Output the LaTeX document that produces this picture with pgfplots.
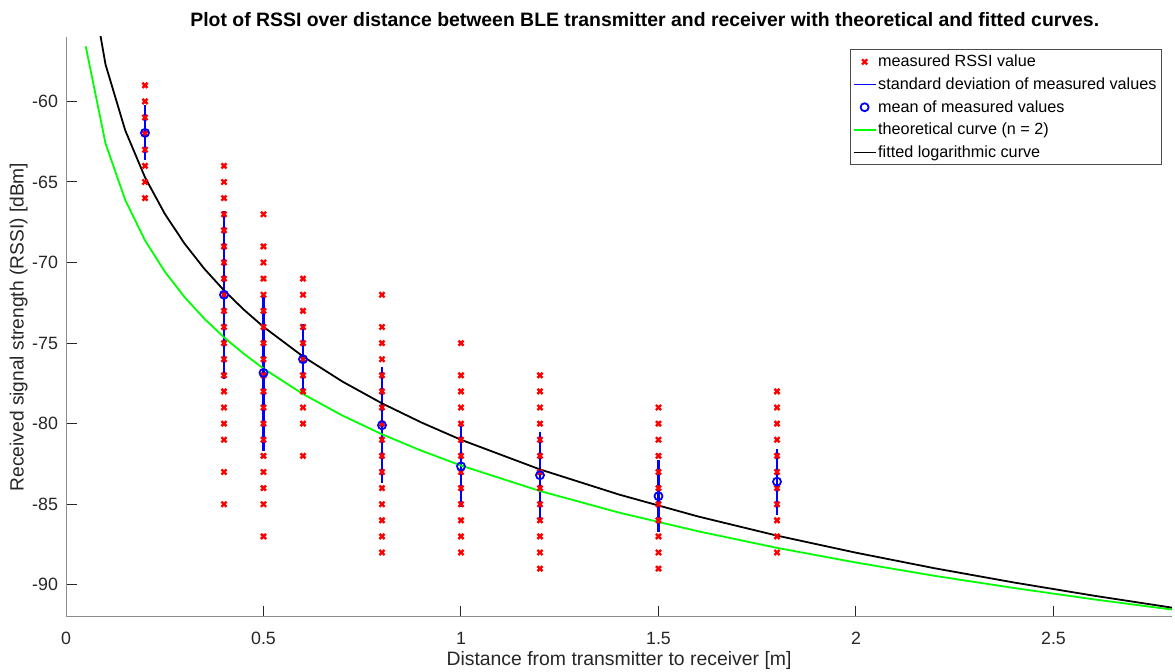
\documentclass[border=0pt]{standalone}
\usepackage{fontspec}
\setmainfont{Liberation Sans}
\usepackage{pgfplots}
\pgfplotsset{compat=1.18}
\usepackage{pgfplotstable}

\pgfplotstableread{
d rssi
0.2 -59
0.2 -60
0.2 -61
0.2 -62
0.2 -63
0.2 -64
0.2 -65
0.2 -66
0.4 -64
0.4 -65
0.4 -66
0.4 -67
0.4 -68
0.4 -69
0.4 -70
0.4 -71
0.4 -72
0.4 -73
0.4 -74
0.4 -75
0.4 -76
0.4 -77
0.4 -78
0.4 -79
0.4 -80
0.4 -81
0.4 -83
0.4 -85
0.5 -67
0.5 -69
0.5 -70
0.5 -71
0.5 -72
0.5 -73
0.5 -74
0.5 -75
0.5 -76
0.5 -77
0.5 -78
0.5 -79
0.5 -80
0.5 -81
0.5 -82
0.5 -83
0.5 -84
0.5 -85
0.5 -87
0.6 -71
0.6 -72
0.6 -73
0.6 -74
0.6 -75
0.6 -76
0.6 -77
0.6 -78
0.6 -79
0.6 -80
0.6 -82
0.8 -72
0.8 -74
0.8 -75
0.8 -76
0.8 -77
0.8 -78
0.8 -79
0.8 -80
0.8 -81
0.8 -82
0.8 -83
0.8 -84
0.8 -85
0.8 -86
0.8 -87
0.8 -88
1.0 -75
1.0 -77
1.0 -78
1.0 -79
1.0 -80
1.0 -81
1.0 -82
1.0 -83
1.0 -84
1.0 -85
1.0 -86
1.0 -87
1.0 -88
1.2 -77
1.2 -78
1.2 -79
1.2 -80
1.2 -81
1.2 -82
1.2 -83
1.2 -84
1.2 -85
1.2 -86
1.2 -87
1.2 -88
1.2 -89
1.5 -79
1.5 -80
1.5 -81
1.5 -82
1.5 -83
1.5 -84
1.5 -85
1.5 -86
1.5 -87
1.5 -88
1.5 -89
1.8 -78
1.8 -79
1.8 -80
1.8 -81
1.8 -82
1.8 -83
1.8 -84
1.8 -85
1.8 -86
1.8 -87
1.8 -88
}\measured

\pgfplotstableread{
d mean
0.2 -61.95
0.4 -72.0
0.5 -76.85
0.6 -76.0
0.8 -80.1
1.0 -82.65
1.2 -83.2
1.5 -84.5
1.8 -83.6
}\means

\pgfplotstableread{
d rssi
0.05 -56.58
0.10 -62.60
0.15 -66.12
0.20 -68.62
0.25 -70.56
0.30 -72.14
0.35 -73.48
0.40 -74.64
0.45 -75.66
0.50 -76.58
0.60 -78.16
0.70 -79.50
0.80 -80.66
0.90 -81.68
1.00 -82.60
1.20 -84.18
1.40 -85.52
1.60 -86.68
1.80 -87.71
2.00 -88.62
2.20 -89.45
2.40 -90.20
2.60 -90.90
2.80 -91.54
}\theory

\pgfplotstableread{
d rssi
0.05 -50.69
0.10 -57.70
0.15 -61.80
0.20 -64.71
0.25 -66.97
0.30 -68.82
0.35 -70.38
0.40 -71.73
0.45 -72.92
0.50 -73.99
0.60 -75.83
0.70 -77.39
0.80 -78.74
0.90 -79.93
1.00 -81.00
1.20 -82.84
1.40 -84.40
1.60 -85.76
1.80 -86.95
2.00 -88.01
2.20 -88.98
2.40 -89.86
2.60 -90.67
2.80 -91.42
}\fitted

\begin{document}
\begin{tikzpicture}
\path[use as bounding box] (-33pt,-27.5pt) rectangle (554.5pt,308.5pt);
\begin{axis}[
  at={(0,0)}, anchor=south west,
  scale only axis, width=553pt, height=290pt,
  xmin=0, xmax=2.8, ymin=-92, ymax=-56,
  axis x line=bottom, axis y line=left,
  axis line style={-, draw=black!45, line width=0.5pt},
  tick align=inside, major tick length=5.5pt,
  tick style={black!85, line width=0.5pt},
  xtick={0,0.5,1,1.5,2,2.5},
  ytick={-90,-85,-80,-75,-70,-65,-60},
  /pgf/number format/assume math mode=true,
  ticklabel style={font=\fontsize{8.9}{10}\selectfont, text=black!85},
  xticklabel style={yshift=-4pt},
  yticklabel style={xshift=-0.5pt},
  xlabel={Distance from transmitter to receiver [m]},
  ylabel={Received signal strength (RSSI) [dBm]},
  every axis x label/.style={at={(axis description cs:0.5,-0.0845)}, anchor=base, font=\fontsize{9.7}{11}\selectfont, text=black!85},
  every axis y label/.style={at={(axis description cs:-0.0429,0.5)}, anchor=center, rotate=90, font=\fontsize{9.6}{11}\selectfont, text=black!85},
  title={Plot of RSSI over distance between BLE transmitter and receiver with theoretical and fitted curves.},
  every axis title/.style={at={(axis description cs:0.1121,1.0178)}, anchor=base west, inner sep=0pt, font=\bfseries\fontsize{9.7}{11}\selectfont},
  legend cell align=left,
  legend style={at={(1,1)}, anchor=north east, xshift=-5pt, yshift=-6pt,
    draw=black!70, line width=0.5pt, inner xsep=1.5pt, inner ysep=0.5pt,
    font=\fontsize{8.1}{9}\selectfont, row sep=0pt,
    nodes={inner sep=1pt, text height=7.1pt, text depth=2.25pt, text=black}},
  legend image code/.code={\draw[mark repeat=2,mark phase=2,#1,line width=0.6pt] plot coordinates {(0pt,0pt) (5.5pt,0pt) (11pt,0pt)};},
]
\addplot[only marks, red, mark=x, mark size=1.8pt, mark options={line width=1.2pt}] table[x=d, y=rssi] {\measured};
\addlegendentry{measured RSSI value}
\addplot[blue, line width=1.3pt, unbounded coords=jump] coordinates {
  (0.2,-60.25) (0.2,-63.65) (0.3,nan)
  (0.4,-66.8) (0.4,-77.2) (0.45,nan)
  (0.5,-72.0) (0.5,-81.7) (0.55,nan)
  (0.6,-73.8) (0.6,-78.2) (0.7,nan)
  (0.8,-76.5) (0.8,-83.7) (0.9,nan)
  (1.0,-80.15) (1.0,-85.15) (1.1,nan)
  (1.2,-80.5) (1.2,-85.9) (1.3,nan)
  (1.5,-82.25) (1.5,-86.75) (1.6,nan)
  (1.8,-81.55) (1.8,-85.65)
};
\addlegendentry{standard deviation of measured values\hspace{5pt}}
\addplot[only marks, blue, mark=o, mark size=2pt, mark options={line width=0.9pt}] table[x=d, y=mean] {\means};
\addlegendentry{mean of measured values}
\addplot[green, line width=0.9pt, mark=none] table[x=d, y=rssi] {\theory};
\addlegendentry{theoretical curve (n = 2)}
\addplot[black, line width=0.9pt, mark=none] table[x=d, y=rssi] {\fitted};
\addlegendentry{fitted logarithmic curve}
\end{axis}
\end{tikzpicture}
\end{document}
